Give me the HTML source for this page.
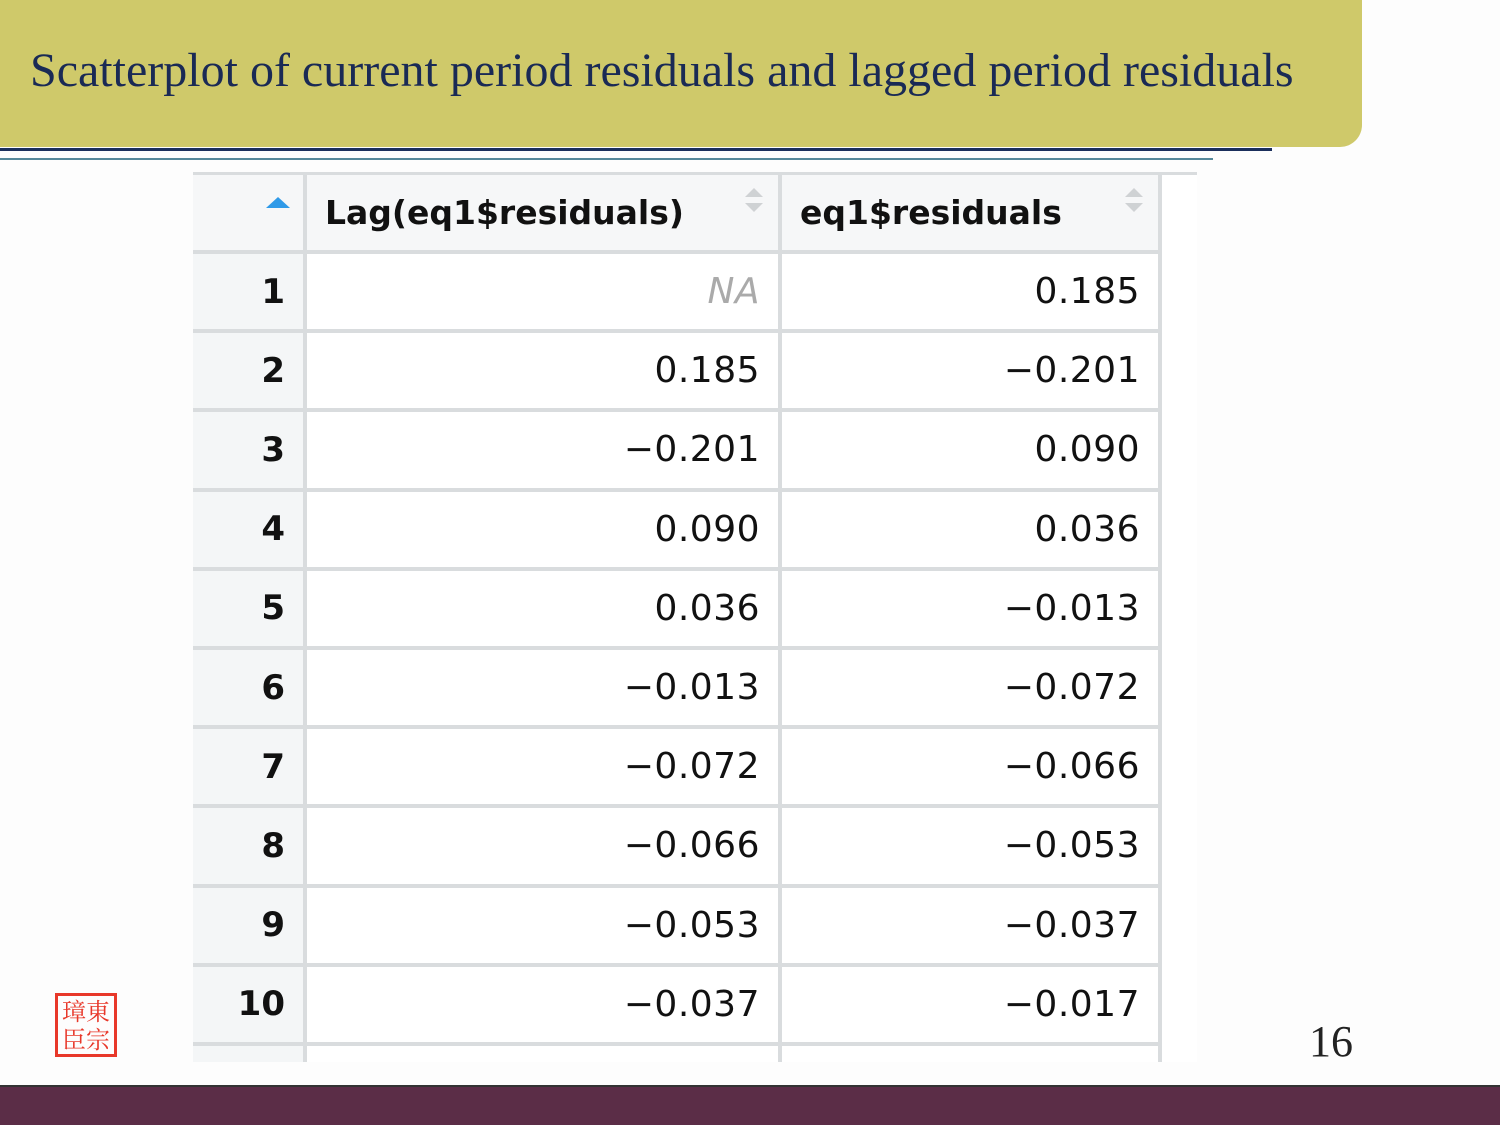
<!DOCTYPE html>
<html><head><meta charset="utf-8">
<style>
body{margin:0;width:1500px;height:1125px;position:relative;background:#fdfdfd;overflow:hidden;font-family:"Liberation Sans","DejaVu Sans",sans-serif}
.abs{position:absolute}
#title-bar{left:0;top:0;width:1362px;height:147px;background:#cfc96a;border-bottom-right-radius:22px}
#title{left:30px;top:43px;font-family:"Liberation Serif",serif;font-size:48px;color:#1a2a55;white-space:nowrap}
.cell{position:absolute;box-sizing:border-box;display:flex;align-items:center;justify-content:flex-end;padding-right:18px;font-size:36px;color:#111;font-family:"DejaVu Sans","Liberation Sans",sans-serif;letter-spacing:0.5px}
.sort{position:absolute;width:0;height:0;border-left:9px solid transparent;border-right:9px solid transparent}
</style></head>
<body>
<div id="title-bar" class="abs"></div>
<div id="title" class="abs">Scatterplot of current period residuals and lagged period residuals</div>
<div class="abs" style="left:0;top:148px;width:1272px;height:3px;background:#1b2f5c"></div>
<div class="abs" style="left:0;top:158px;width:1213px;height:2px;background:#56889a"></div>

<div id="table" class="abs" style="left:193px;top:172px;width:1004px;height:890px;background:#fff">
  <div class="abs" style="left:0;top:0;width:1004px;height:3px;background:#d9dcde"></div>
  <div class="abs" style="left:0;top:3px;width:110px;height:887px;background:#f4f6f7"></div>
  <div class="abs" style="left:0;top:3px;width:966px;height:75px;background:#f6f7f8"></div>
  <div class="abs" style="left:110px;top:3px;width:4px;height:887px;background:#d9dcde"></div>
  <div class="abs" style="left:585px;top:3px;width:4px;height:887px;background:#d9dcde"></div>
  <div class="abs" style="left:965px;top:3px;width:4px;height:887px;background:#d9dcde"></div>
  <div class="abs" style="left:73px;top:25px;width:0;height:0;border-left:12px solid transparent;border-right:12px solid transparent;border-bottom:11px solid #2f9ae8"></div>
  <div class="abs" style="left:132px;top:21px;font-size:33px;font-weight:bold;font-family:'DejaVu Sans',sans-serif;color:#111">Lag(eq1$residuals)</div>
  <div class="abs" style="left:607px;top:21px;font-size:33px;font-weight:bold;font-family:'DejaVu Sans',sans-serif;color:#111">eq1$residuals</div>
  <div class="sort" style="left:552px;top:16px;border-bottom:9px solid #cfd2d4"></div>
  <div class="sort" style="left:552px;top:31px;border-top:9px solid #cfd2d4"></div>
  <div class="sort" style="left:932px;top:16px;border-bottom:9px solid #cfd2d4"></div>
  <div class="sort" style="left:932px;top:31px;border-top:9px solid #cfd2d4"></div>
</div>

<div class="abs" style="left:55px;top:993px;width:56px;height:58px;border:3px solid #e8382a;color:#e8382a;font-family:'Noto Serif CJK SC',serif;font-size:24px;line-height:28px;text-align:center;overflow:hidden">璋東<br>臣宗</div>
<div class="abs" style="left:1309px;top:1016px;font-family:'Liberation Serif',serif;font-size:44px;color:#222">16</div>
<div class="abs" style="left:0;top:1085px;width:1500px;height:40px;background:#5b2d47;border-top:2px solid #333;box-sizing:border-box"></div>

<script>
const rowIds=["1","2","3","4","5","6","7","8","9","10"];
const lagValues=["NA","0.185","-0.201","0.090","0.036","-0.013","-0.072","-0.066","-0.053","-0.037"];
const resValues=["0.185","-0.201","0.090","0.036","-0.013","-0.072","-0.066","-0.053","-0.037","-0.017"];
const table=document.getElementById('table');
const rowH=79.2, top0=78;
function fmt(v){return v.replace('-','\u2212');}
for(let i=0;i<=rowIds.length;i++){
  const line=document.createElement('div');
  line.className='abs';
  
  
  line.style.cssText=`left:0;top:${top0+i*rowH}px;width:969px;height:4px;background:#d9dcde`;
  table.appendChild(line);
}
rowIds.forEach((id,i)=>{
  const y=top0+i*rowH+4, h=rowH-4;
  const c0=document.createElement('div');c0.className='cell';
  
  
  c0.style.cssText=`left:0;top:${y}px;width:110px;height:${h}px;font-weight:bold;padding-right:18px;letter-spacing:0;font-size:34px`;
  c0.textContent=id;table.appendChild(c0);
  const c1=document.createElement('div');c1.className='cell';
  
  
  c1.style.cssText=`left:114px;top:${y}px;width:471px;height:${h}px`;
  if(lagValues[i]==='NA'){c1.style.color='#aaa';c1.style.fontStyle='italic';}
  c1.textContent=fmt(lagValues[i]);table.appendChild(c1);
  const c2=document.createElement('div');c2.className='cell';
  
  
  c2.style.cssText=`left:589px;top:${y}px;width:376px;height:${h}px`;
  c2.textContent=fmt(resValues[i]);table.appendChild(c2);
});
</script>
</body></html>
